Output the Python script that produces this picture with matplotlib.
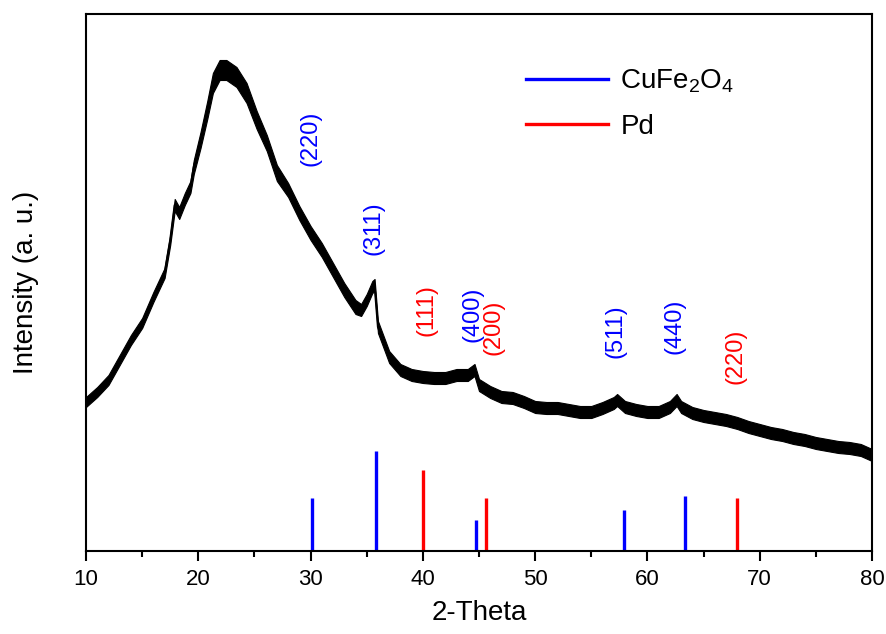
import matplotlib
matplotlib.use("Agg")
import matplotlib.pyplot as plt
from matplotlib.lines import Line2D

plt.rcParams['font.family'] = ['Liberation Sans', 'DejaVu Sans']
plt.rcParams['mathtext.fontset'] = 'custom'
plt.rcParams['mathtext.rm'] = 'Liberation Sans'
plt.rcParams['mathtext.it'] = 'Liberation Sans'

# XRD trace (2-theta, intensity a.u., noise half-width)
two_theta = [10.0, 11.0, 12.0, 13.0, 14.0, 15.0, 16.0, 17.0, 17.5, 17.9,
             18.3, 18.8, 19.3, 19.6, 20.2, 20.8, 21.3, 21.9, 22.5, 23.4,
             24.3, 25.2, 26.1, 27.0, 28.0, 29.0, 30.0, 31.0, 32.0, 33.0,
             34.0, 34.5, 35.0, 35.5, 35.7, 36.0, 37.0, 38.0, 39.0, 40.0,
             41.0, 42.0, 43.0, 44.0, 44.6, 45.0, 46.0, 47.0, 48.0, 49.0,
             50.0, 51.0, 52.0, 53.0, 54.0, 55.0, 56.0, 57.0, 57.3, 58.0,
             59.0, 60.0, 61.0, 62.0, 62.6, 63.0, 64.0, 65.0, 66.0, 67.0,
             68.0, 69.0, 70.0, 71.0, 72.0, 73.0, 74.0, 75.0, 76.0, 77.0,
             78.0, 79.0, 80.0]
intensity = [149, 159, 171, 191, 211, 228, 254, 278, 311, 346,
             338, 352, 364, 384, 411, 441, 468, 481, 481, 474,
             458, 431, 408, 378, 361, 338, 318, 301, 281, 261,
             244, 241, 251, 264, 266, 224, 194, 181, 176, 174,
             173, 173, 176, 176, 181, 166, 159, 154, 153, 149,
             144, 143, 143, 141, 139, 139, 143, 148, 151, 144,
             141, 139, 139, 144, 151, 144, 138, 135, 133, 131,
             128, 124, 121, 118, 116, 113, 111, 108, 106, 104,
             103, 101, 96]
noise = [5, 5, 5, 5, 5, 5, 5, 5, 5, 6,
         6, 6, 6, 7, 8, 9, 10, 10, 10, 10,
         10, 9, 8, 8, 7, 7, 7, 7, 7, 7,
         7, 6, 6, 6, 6, 6, 6, 6, 6, 6,
         6, 6, 6, 6, 6, 6, 6, 6, 6, 6,
         6, 6, 6, 6, 6, 6, 6, 6, 6, 6,
         6, 6, 6, 6, 6, 6, 6, 6, 6, 6,
         6, 6, 6, 6, 6, 6, 6, 6, 6, 6,
         6, 6, 6]

# reference sticks
cufe_pos = [30.13, 35.85, 44.73, 57.95, 63.37]
cufe_height = [53, 100, 31, 41, 55]
cufe_hkl = ['(220)', '(311)', '(400)', '(511)', '(440)']
pd_pos = [39.98, 45.62, 67.94]
pd_height = [81, 53, 53]
pd_hkl = ['(111)', '(200)', '(220)']

# peak label positions (x, y centre)
cufe_label_x = [29.95, 35.56, 44.46, 57.2, 62.45]
cufe_label_y = [413, 323, 237, 220, 225]
pd_label_x = [40.28, 46.25, 67.8]
pd_label_y = [241, 224, 195]

fig = plt.figure(figsize=(8.86, 6.34), dpi=100)
ax = fig.add_axes([86/886, 83/634, 786/886, 537/634])

lower = [i - n for i, n in zip(intensity, noise)]
upper = [i + n for i, n in zip(intensity, noise)]
ax.fill_between(two_theta, lower, upper, color='black', lw=0.8)
ax.plot(two_theta, intensity, color='black', lw=1.5)

ax.vlines(cufe_pos, 0, cufe_height, color='blue', lw=2.4)
ax.vlines(pd_pos, 0, pd_height, color='red', lw=2.4)

for x, y, t in zip(cufe_label_x, cufe_label_y, cufe_hkl):
    ax.text(x, y, t, color='blue', rotation=90, ha='center', va='center', fontsize=17)
for x, y, t in zip(pd_label_x, pd_label_y, pd_hkl):
    ax.text(x, y, t, color='red', rotation=90, ha='center', va='center', fontsize=17)

handles = [Line2D([], [], color='blue', lw=2.4), Line2D([], [], color='red', lw=2.4)]
ax.legend(handles, ['CuFe$_2$O$_4$', 'Pd'], loc='upper left',
          bbox_to_anchor=((526-86)/786, 0.90), frameon=False, fontsize=20,
          handlelength=2.95, handletextpad=0.45, labelspacing=0.68,
          borderpad=0, borderaxespad=0)

ax.set_xlim(10, 80)
ax.set_ylim(0, 537)
ax.set_xticks(range(10, 81, 10))
ax.set_xticks(range(15, 80, 10), minor=True)
ax.set_yticks([])
ax.tick_params(axis='x', which='major', direction='out', length=7, width=1.5, labelsize=16, pad=6)
ax.tick_params(axis='x', which='minor', direction='out', length=4, width=1.5)
for s in ax.spines.values():
    s.set_linewidth(1.5)

ax.set_xlabel('2-Theta', fontsize=20, labelpad=7)
ax.set_ylabel('Intensity (a. u.)', fontsize=20, labelpad=34)

fig.savefig('out.png', dpi=100)
